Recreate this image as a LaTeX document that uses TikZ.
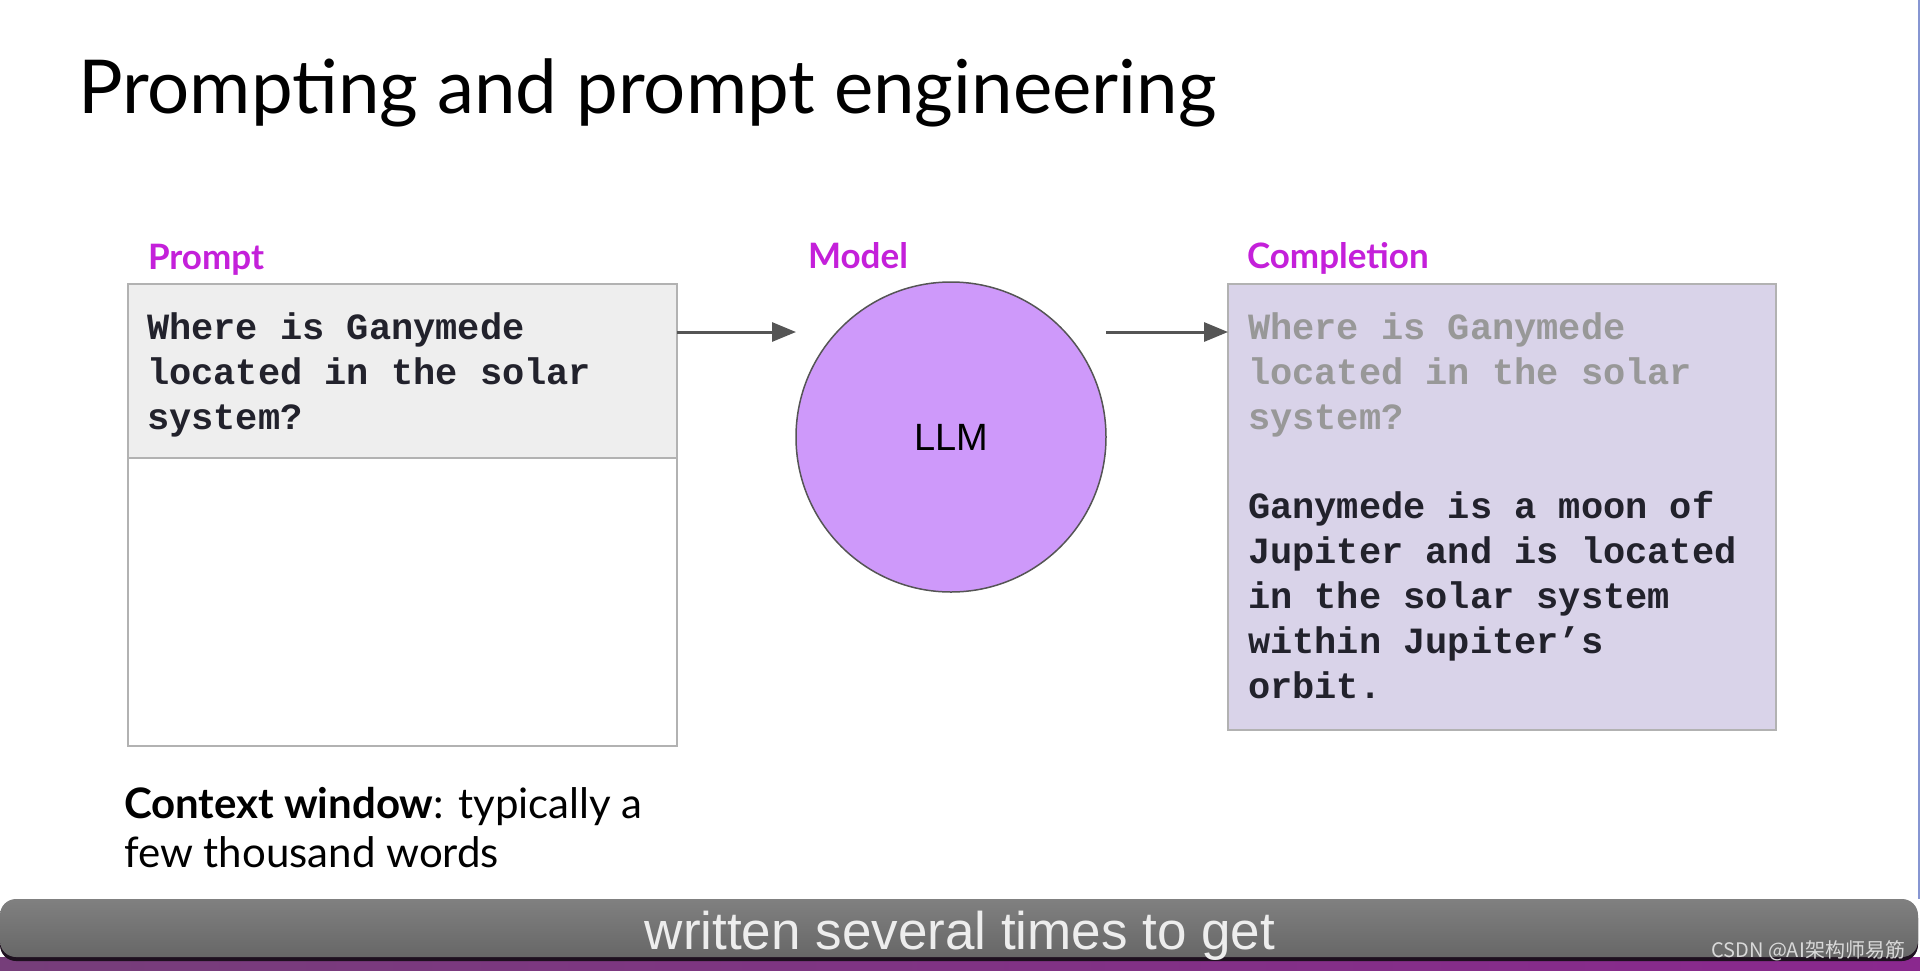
\documentclass[tikz,border=0pt]{standalone}
\usepackage{fontspec}
\setmainfont{Lato}
\setsansfont{Liberation Sans}
\setmonofont{Liberation Mono}
\newfontfamily\cjkfont{Noto Sans CJK SC}
\usetikzlibrary{positioning, arrows.meta, calc}
\definecolor{lblmagenta}{RGB}{196, 32, 218}
\definecolor{llmpurple}{RGB}{206, 153, 250}
\definecolor{complavender}{RGB}{217, 211, 233}
\definecolor{boxgrey}{RGB}{238, 238, 238}
\definecolor{edgegrey}{RGB}{178, 178, 178}
\definecolor{arrowgrey}{RGB}{85, 85, 85}
\definecolor{codeink}{RGB}{34, 34, 44}
\definecolor{fadedink}{RGB}{152, 152, 152}
\definecolor{bartop}{RGB}{128, 128, 128}
\definecolor{barbottom}{RGB}{103, 103, 103}
\definecolor{stripleft}{RGB}{118, 62, 122}
\definecolor{stripright}{RGB}{138, 40, 142}
\definecolor{edgeblue}{RGB}{135, 150, 210}

\begin{document}
\begin{tikzpicture}[x=1pt, y=-1pt,
    every node/.style={inner sep=0pt, outer sep=0pt},
    lbl/.style={anchor=base west, text=lblmagenta, font=\fontsize{35}{42}\selectfont\bfseries},
    code/.style={anchor=base west, align=left, text=codeink, font=\fontsize{37}{45}\selectfont\ttfamily\bfseries},
    arr/.style={-{Triangle[length=24pt, width=19pt]}, line width=3pt, arrowgrey}]
    \useasboundingbox (0,0) rectangle (1920,970);
    \fill[white] (0,0) rectangle (1920,970);
    \draw[line width=1.5pt, edgeblue] (1919,0) -- (1919,899);

    \node[anchor=base west, font=\fontsize{74.4}{90}\selectfont] (title) at (78,113) {Prompting and prompt engineering};

    % prompt side
    \node[draw=edgegrey, line width=2pt, fill=white, minimum width=549pt, minimum height=462pt, anchor=north west] (prompt) at (128,284) {};
    \node[draw=edgegrey, line width=2pt, fill=boxgrey, minimum width=549pt, minimum height=174pt, anchor=north west] (query) at (prompt.north west) {};
    \node[code] (querytext) at ([xshift=19pt, yshift=-145pt]query.north west)
      {Where is Ganymede\\
       located in the solar\\
       system?};
    \node[lbl] (promptlbl) at ([xshift=20pt, yshift=15pt]prompt.north west) {Prompt};

    % model
    \node[circle, draw=arrowgrey, line width=1.5pt, fill=llmpurple, minimum size=310pt, font=\fontsize{38}{44}\selectfont\sffamily] (llm) at (951,437) {LLM};
    \node[lbl] (modellbl) at ([xshift=-143pt, yshift=14pt]llm.north) {Model};

    % completion side
    \node[draw=edgegrey, line width=2pt, fill=complavender, minimum width=548pt, minimum height=446pt, anchor=north west] (completion) at (1228,284) {};
    \node[lbl] (completionlbl) at ([xshift=19pt, yshift=16pt]completion.north west) {Completion};
    \node[code] (answertext) at ([xshift=20pt, yshift=-414pt]completion.north west)
      {\textcolor{fadedink}{Where is Ganymede}\\
       \textcolor{fadedink}{located in the solar}\\
       \textcolor{fadedink}{system?}\\[44pt]
       Ganymede is a moon of\\
       Jupiter and is located\\
       in the solar system\\
       within Jupiter’s\\
       orbit.};

    \draw[arr] ([yshift=-48pt]prompt.north east) -- ([yshift=-48pt]prompt.north east -| llm.west);
    \draw[arr] ([yshift=-48pt]completion.north west -| llm.east) -- ([yshift=-48pt]completion.north west);

    \node[anchor=base west, align=left, font=\fontsize{42}{49}\selectfont] (ctxnote) at ([xshift=-4pt, yshift=-121pt]prompt.south west)
      {\textbf{Context window}: typically a\\
       few thousand words};

    % subtitle bar
    \fill[left color=stripleft, right color=stripright] (0,957) rectangle (1920,970);
    \fill[black!75!stripleft, rounded corners=16pt] (0,902) rectangle (1918,961);
    \node[rectangle, rounded corners=16pt, top color=bartop, bottom color=barbottom, minimum width=1918pt, minimum height=58pt, anchor=north west] (bar) at (0,899) {};
    \node[anchor=base, text=white!93!black, font=\fontsize{53}{60}\selectfont\sffamily] (subtitle) at (960,949) {written several times to get};
    \node[anchor=base east, text=white!85!black, font=\fontsize{20}{24}\selectfont\cjkfont] (mark) at (1905,957) {CSDN @AI架构师易筋};
\end{tikzpicture}
\end{document}
